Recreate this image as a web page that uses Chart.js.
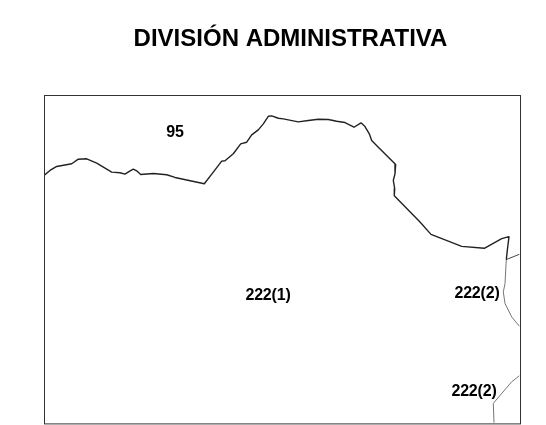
<!DOCTYPE html>
<html><head><meta charset="utf-8">
<style>html,body{margin:0;padding:0;background:#fff}#w{width:546px;height:425px}</style>
<script src="https://cdn.jsdelivr.net/npm/chart.js@4"></script></head>
<body><div id="w"><canvas id="c"></canvas></div>
<script>
const chartTitle = "DIVISIÓN ADMINISTRATIVA";
// Map coordinates: x rightward from frame's west edge, y upward from frame's south edge
const coastX = [0,6,12.7,27.7,34.3,42.7,52.7,67.7,76,81,85.3,89.3,92.7,96.7,109.3,122.7,131,160.3,169.3,177.7,181,189.3,196.7,202.7,207.7,214.3,219.3,224.3,227.7,234.3,239.3,244.3,254.3,264.3,274.3,284.3,292.7,301,310,317,321,325.3,327.7,334.3,351.7,351,349.3,350.7,350.3,376,387,417.7,440.3,457.7,465,463.3,462.3];
const coastY = [248,253,257,259.7,264.3,264.7,260.3,251.3,250.7,249.3,252,254.3,252.7,249,250,248.7,246,239.7,251.3,262.3,262.7,269.7,279.7,281.3,288.7,293.7,299.7,307.3,307.7,305.3,304.7,303.7,301.7,303,304.3,304,302.3,301,296.3,300.7,297,289.7,283,276.3,259,249.7,243,234.7,227.7,201.3,189,177,175,184.7,186.7,173,163.7];
const branchAX = [462.3,475.3];
const branchAY = [163.7,169];
const branchBX = [462.3,461,459.3,461,467.7,475.3];
const branchBY = [163.7,139.7,131.3,119.7,106.3,97];
const branchCX = [475.3,467.7,449.3,450];
const branchCY = [47.3,41.3,19.7,0.3];
const labelTexts = ["95","222(1)","222(2)","222(2)"];
const labelX = [131,224,433,430];
const labelY = [291,128,130,31];
const xMax = 476, yMax = 329;

const zip=(a,b)=>a.map((v,i)=>({x:v,y:b[i]}));
const ln=(a,b,w,col)=>({data:zip(a,b),showLine:true,borderColor:col,borderWidth:w,pointRadius:0,tension:0,fill:false,borderJoinStyle:'round'});

const decor={id:'decor',
 afterLayout(ch){ if(ch.titleBlock){ch.titleBlock.left+=8.5;ch.titleBlock.right+=8.5;} },
 afterDraw(ch){
  const {ctx,chartArea:a,scales:{x,y}}=ch;
  ctx.save();
  ctx.strokeStyle='#333';ctx.lineWidth=1;
  ctx.strokeRect(Math.round(a.left)+.5,Math.round(a.top)+.5,a.right-a.left,a.bottom-a.top);
  ctx.fillStyle='#000';ctx.font='bold 16px "Liberation Sans"';ctx.textAlign='center';ctx.textBaseline='middle';
  if('letterSpacing' in ctx) ctx.letterSpacing='-0.2px';
  labelTexts.forEach((t,i)=>ctx.fillText(t,x.getPixelForValue(labelX[i]),y.getPixelForValue(labelY[i])));
  ctx.restore();
 }};
new Chart(document.getElementById('c'),{type:'scatter',
 data:{datasets:[ln(coastX,coastY,1.4,'#222'),ln(branchAX,branchAY,1,'#444'),ln(branchBX,branchBY,0.9,'#666'),ln(branchCX,branchCY,0.9,'#666')]},
 plugins:[decor],
 options:{responsive:true,maintainAspectRatio:false,animation:false,
  layout:{padding:{left:44,right:26,top:0,bottom:2}},
  plugins:{legend:{display:false},tooltip:{enabled:false},
   title:{display:true,text:chartTitle,color:'#000',font:{family:'"Liberation Sans"',size:24,weight:'bold'},padding:{top:25,bottom:40.8}}},
  scales:{x:{type:'linear',min:0,max:xMax,display:false},y:{type:'linear',min:0,max:yMax,display:false}}}});
</script></body></html>
